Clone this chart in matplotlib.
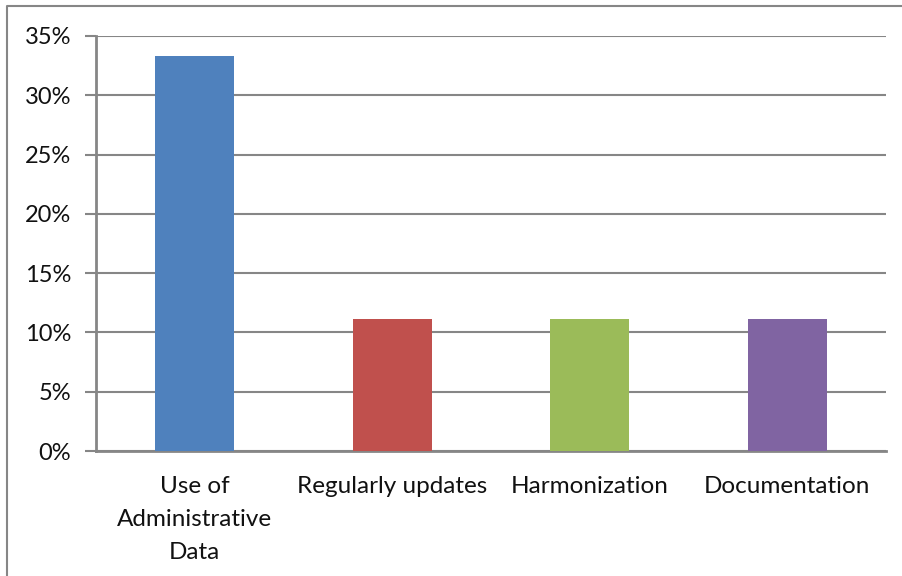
import matplotlib.pyplot as plt
from matplotlib.lines import Line2D

categories = ["Use of\nAdministrative\nData", "Regularly updates", "Harmonization", "Documentation"]
values = [33.33, 11.11, 11.11, 11.11]
colors = ["#4F81BD", "#C0504D", "#9BBB59", "#8064A2"]
yticks = [0, 5, 10, 15, 20, 25, 30, 35]

plt.rcParams['font.family'] = ['Lato', 'DejaVu Sans']

fig = plt.figure(figsize=(9.02, 5.76), dpi=100)
ax = fig.add_axes([96/902, 1 - 451/576, (886-96)/902, (451-36)/576])

x = range(len(categories))
ax.bar(x, values, width=0.4, color=colors, zorder=3)

ax.set_xlim(-0.5, len(categories) - 0.5)
ax.set_ylim(0, 35)
ax.set_yticks(yticks)
ax.set_yticklabels([f"{t}%" for t in yticks], fontsize=17, color='#111111')
ax.set_xticks(list(x))
ax.set_xticklabels(categories, fontsize=17.5, linespacing=1.7, va='top', color='#111111')

ax.yaxis.grid(True, color='#868686', linewidth=1.5, zorder=0)
ax.tick_params(axis='y', length=8, width=1.5, color='#868686', pad=10)
ax.tick_params(axis='x', length=0, pad=18)
for s in ['top', 'right']:
    ax.spines[s].set_visible(False)
for s in ['left', 'bottom']:
    ax.spines[s].set_color('#868686')
    ax.spines[s].set_linewidth(2)

# outer chart border (left and top edges only visible)
top = 1 - 6/576
left = 7/902
fig.lines.append(Line2D([left, left, 1.0], [0, top, top], transform=fig.transFigure,
                        color='#868686', linewidth=1.5))

fig.savefig("out.png", dpi=100)
